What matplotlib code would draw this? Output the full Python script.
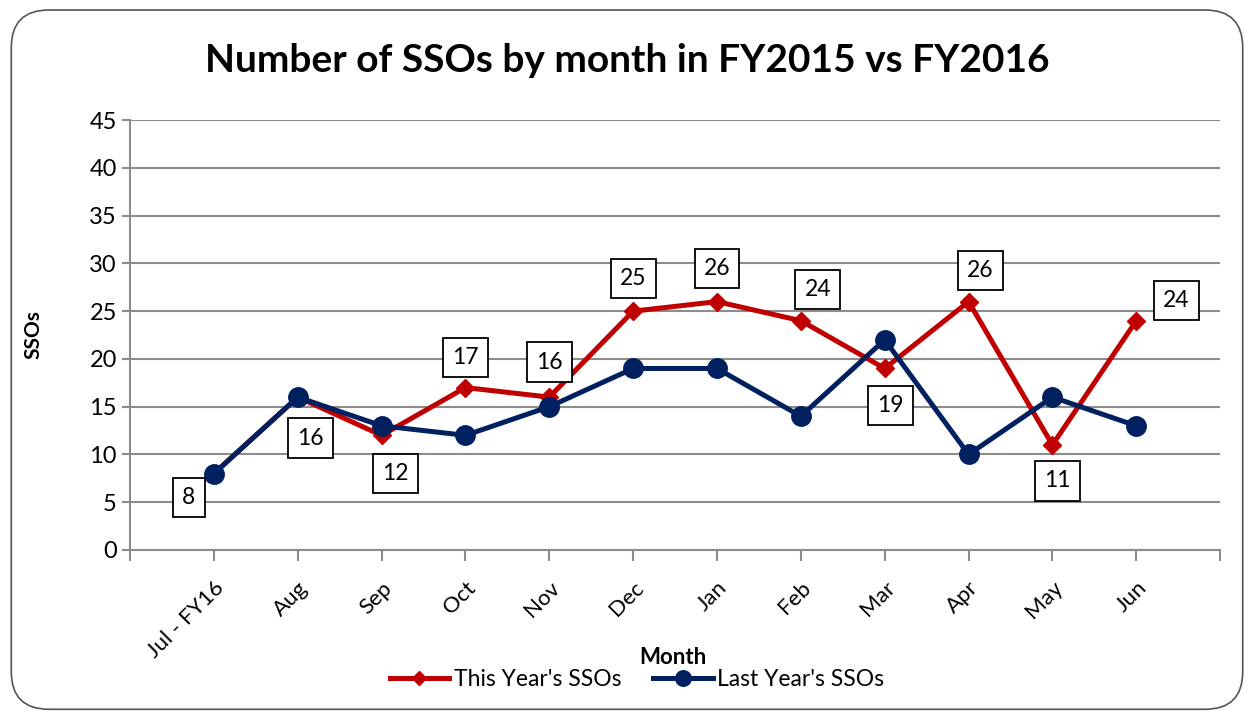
import numpy as np
import matplotlib
matplotlib.use("Agg")
import matplotlib.pyplot as plt
from matplotlib.patches import FancyBboxPatch

plt.rcParams['font.family'] = ['Lato', 'DejaVu Sans']

months = ["Jul - FY16", "Aug", "Sep", "Oct", "Nov", "Dec",
          "Jan", "Feb", "Mar", "Apr", "May", "Jun"]
this_year = [8, 16, 12, 17, 16, 25, 26, 24, 19, 26, 11, 24]
last_year = [8, 16, 13, 12, 15, 19, 19, 14, 22, 10, 16, 13]

# label offsets (pixels) for the data labels of this year's series
label_dx = [-25, 13, 14, 0, 0, 0, 0, 17, 6, 12, 5, 40]
label_dy = [-24, -41, -38, 30, 35, 33, 33, 31, -37, 31, -36, 20]

RED = "#C00000"
NAVY = "#002060"
GRID = "#8c8c8c"

fig = plt.figure(figsize=(12.54, 7.15), dpi=100)
ax = fig.add_axes([0.1037, 0.2308, 0.8693, 0.6012])

x = np.arange(len(months))
ax.plot(x, this_year, color=RED, lw=3.6, marker="D", ms=9,
        label="This Year's SSOs", zorder=3)
ax.plot(x, last_year, color=NAVY, lw=3.6, marker="o", ms=14,
        label="Last Year's SSOs", zorder=4)

for i, v in enumerate(this_year):
    ax.annotate(str(v), (x[i], v), xytext=(label_dx[i], label_dy[i]),
                textcoords="offset pixels", ha="center", va="center",
                fontsize=16.5, zorder=5,
                bbox=dict(boxstyle="square,pad=0.4", fc="white",
                          ec="black", lw=1.3))

ax.set_xlim(-1, 12)
ax.set_ylim(0, 45)
ax.set_yticks(range(0, 46, 5))
ax.set_xticks(np.arange(-1, 13), minor=False)
ax.set_xticklabels([""] + months + [""], rotation=45, ha="right",
                   rotation_mode="anchor", fontsize=16)
ax.tick_params(axis="x", length=8, width=1.5, color=GRID, pad=12)
ax.tick_params(axis="y", length=6, width=1.5, color=GRID, labelsize=17)
ax.grid(axis="y", color=GRID, lw=1.5)
ax.set_axisbelow(True)
for s in ["top", "right"]:
    ax.spines[s].set_visible(False)
for s in ["left", "bottom"]:
    ax.spines[s].set_color(GRID)
    ax.spines[s].set_linewidth(1.5)

ax.set_xlabel("Month", fontsize=16, fontweight="bold", labelpad=0)
ax.set_ylabel("SSOs", fontsize=15, fontweight="bold")
ax.yaxis.set_label_coords(-0.079, 0.5)
ax.xaxis.set_label_coords(0.498, -0.225)

fig.suptitle("Number of SSOs by month in FY2015 vs FY2016", fontsize=28,
             fontweight="bold", y=0.94)

fig.legend(loc="center", bbox_to_anchor=(0.508, 0.049), ncol=2, frameon=False,
           fontsize=16.5, handlelength=2.6, handletextpad=0.2, columnspacing=1.4,
           markerscale=0.8)

border = FancyBboxPatch((0.009, 0.008), 0.982, 0.978,
                        boxstyle="round,pad=0,rounding_size=0.03",
                        transform=fig.transFigure, fc="none", ec="#555555",
                        lw=1.2, mutation_aspect=1254 / 715)
fig.patches.append(border)

fig.savefig("out.png", dpi=100)
